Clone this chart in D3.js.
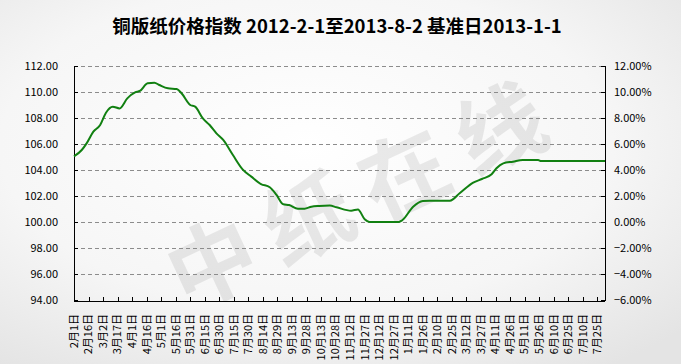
<!DOCTYPE html>
<html><head><meta charset="utf-8">
<script src="https://cdn.jsdelivr.net/npm/d3@7"></script>
<style>body{margin:0;padding:0;overflow:hidden;background:#fff}</style>
</head><body>
<svg id="c" width="681" height="364"></svg>
<script>
const titleText = "铜版纸价格指数 2012-2-1至2013-8-2 基准日2013-1-1";
const dates = ["2012-02-01","2012-02-09","2012-02-14","2012-02-21","2012-02-28","2012-03-05","2012-03-12","2012-03-19","2012-03-27","2012-04-04","2012-04-09","2012-04-17","2012-04-24","2012-04-29","2012-05-08","2012-05-17","2012-05-22","2012-05-31","2012-06-05","2012-06-13","2012-06-20","2012-06-27","2012-07-04","2012-07-14","2012-07-24","2012-08-02","2012-08-12","2012-08-21","2012-08-28","2012-09-04","2012-09-10","2012-09-19","2012-09-26","2012-10-03","2012-10-11","2012-10-22","2012-10-29","2012-11-13","2012-11-20","2012-11-27","2012-12-02","2013-01-01","2013-01-05","2013-01-16","2013-01-26","2013-02-02","2013-02-23","2013-03-05","2013-03-19","2013-03-28","2013-04-07","2013-04-12","2013-04-19","2013-04-29","2013-05-09","2013-05-25","2013-05-28","2013-08-02"];
const values = [105.05,105.54,106.05,106.95,107.46,108.41,108.87,108.74,109.51,109.97,110.08,110.67,110.72,110.54,110.28,110.23,109.90,109.00,108.87,107.97,107.46,106.82,106.31,105.15,104.05,103.49,102.92,102.67,102.08,101.36,101.31,101.02,101.02,101.18,101.23,101.26,101.13,100.87,100.97,100.21,100.00,100.00,100.15,101.18,101.62,101.64,101.64,102.21,103.03,103.31,103.67,104.13,104.51,104.64,104.77,104.77,104.69,104.69];
const xTickDates = ["2012-02-01","2012-02-16","2012-03-02","2012-03-17","2012-04-01","2012-04-16","2012-05-01","2012-05-16","2012-05-31","2012-06-15","2012-06-30","2012-07-15","2012-07-30","2012-08-14","2012-08-29","2012-09-13","2012-09-28","2012-10-13","2012-10-28","2012-11-12","2012-11-27","2012-12-12","2012-12-27","2013-01-11","2013-01-26","2013-02-10","2013-02-25","2013-03-12","2013-03-27","2013-04-11","2013-04-26","2013-05-11","2013-05-26","2013-06-10","2013-06-25","2013-07-10","2013-07-25"];
const leftTicks = [94,96,98,100,102,104,106,108,110,112];
const rightTicks = [-6,-4,-2,0,2,4,6,8,10,12];
const watermark = "中纸在线";

const parse = d3.timeParse("%Y-%m-%d");
const svg = d3.select("#c");
const W = 681, H = 364;
const m = {l:74, r:605, t:66, b:300};
const font = "'Noto Sans CJK SC','DejaVu Sans',sans-serif";

// background
const defs = svg.append("defs");
const rg = defs.append("radialGradient").attr("id","bg").attr("cx","45%").attr("cy","40%").attr("r","75%");
rg.append("stop").attr("offset","0%").attr("stop-color","#ffffff");
rg.append("stop").attr("offset","60%").attr("stop-color","#f6f6f6");
rg.append("stop").attr("offset","100%").attr("stop-color","#e4e4e4");
svg.append("rect").attr("width",W).attr("height",H).attr("fill","url(#bg)");

// watermark
svg.append("text").attr("transform","translate(368,200) rotate(-25)")
  .attr("text-anchor","middle").attr("dominant-baseline","middle")
  .attr("font-family",font).attr("font-size",88).attr("font-weight","bold")
  .attr("fill","#000").attr("fill-opacity",0.08).attr("letter-spacing",18)
  .text(watermark);

const x = d3.scaleTime().domain([parse("2012-02-01"), parse("2013-08-02")]).range([m.l, m.r]);
const y = d3.scaleLinear().domain([94,112]).range([m.b, m.t]);
const y2 = d3.scaleLinear().domain([-6,12]).range([m.b, m.t]);

// gridlines
svg.append("g").selectAll("line").data(leftTicks.filter(v=>v>94)).join("line")
  .attr("x1",m.l).attr("x2",m.r).attr("y1",d=>y(d)+0.5).attr("y2",d=>y(d)+0.5)
  .attr("stroke","#8c8c8c").attr("stroke-width",1).attr("stroke-dasharray","4,3");

// axes lines
const axisG = svg.append("g").attr("stroke","#000").attr("stroke-width",1).attr("shape-rendering","crispEdges");
axisG.append("line").attr("x1",m.l).attr("x2",m.l).attr("y1",m.t).attr("y2",m.b+1);
axisG.append("line").attr("x1",m.r).attr("x2",m.r).attr("y1",m.t).attr("y2",m.b+1);
axisG.append("line").attr("x1",m.l).attr("x2",m.r).attr("y1",m.b+1).attr("y2",m.b+1);

// left/right small ticks
axisG.selectAll(".lt").data(leftTicks).join("line").attr("class","lt")
  .attr("x1",m.l).attr("x2",m.l+4).attr("y1",d=>y(d)).attr("y2",d=>y(d));
axisG.selectAll(".rt").data(rightTicks).join("line").attr("class","rt")
  .attr("x1",m.r-4).attr("x2",m.r).attr("y1",d=>y2(d)).attr("y2",d=>y2(d));
// bottom ticks
axisG.selectAll(".bt").data(xTickDates.slice(1)).join("line").attr("class","bt")
  .attr("x1",d=>Math.round(x(parse(d)))+0.5).attr("x2",d=>Math.round(x(parse(d)))+0.5)
  .attr("y1",m.b+1).attr("y2",m.b-3);

// left labels
svg.append("g").selectAll("text").data(leftTicks).join("text")
  .attr("x",58).attr("y",d=>y(d)).attr("dy","0.35em").attr("text-anchor","end")
  .attr("font-family",font).attr("font-size",11).attr("fill","#000")
  .text(d=>d3.format(".2f")(d));
// right labels
svg.append("g").selectAll("text").data(rightTicks).join("text")
  .attr("x",614).attr("y",d=>y2(d)).attr("dy","0.35em").attr("text-anchor","start")
  .attr("font-family",font).attr("font-size",11).attr("fill","#000")
  .text(d=>d3.format(".2f")(d)+"%");
// bottom labels
const fmt = d => { const t = parse(d); return (t.getMonth()+1)+"月"+t.getDate()+"日"; };
svg.append("g").selectAll("text").data(xTickDates).join("text")
  .attr("transform",d=>`translate(${x(parse(d))},314) rotate(-90)`)
  .attr("dy","0.35em").attr("text-anchor","end")
  .attr("font-family",font).attr("font-size",11).attr("fill","#000")
  .text(fmt);

// line
const pts = dates.map((d,i)=>({d:parse(d), v:values[i]}));
svg.append("path").datum(pts)
  .attr("fill","none").attr("stroke","#118011").attr("stroke-width",2)
  .attr("stroke-linejoin","round")
  .attr("d", d3.line().x(p=>x(p.d)).y(p=>y(p.v)).curve(d3.curveMonotoneX));

// title
svg.append("text").attr("x",337).attr("y",33).attr("text-anchor","middle")
  .attr("font-family",font).attr("font-size",18.5).attr("font-weight","bold").attr("fill","#000")
  .text(titleText);
</script>
</body></html>
